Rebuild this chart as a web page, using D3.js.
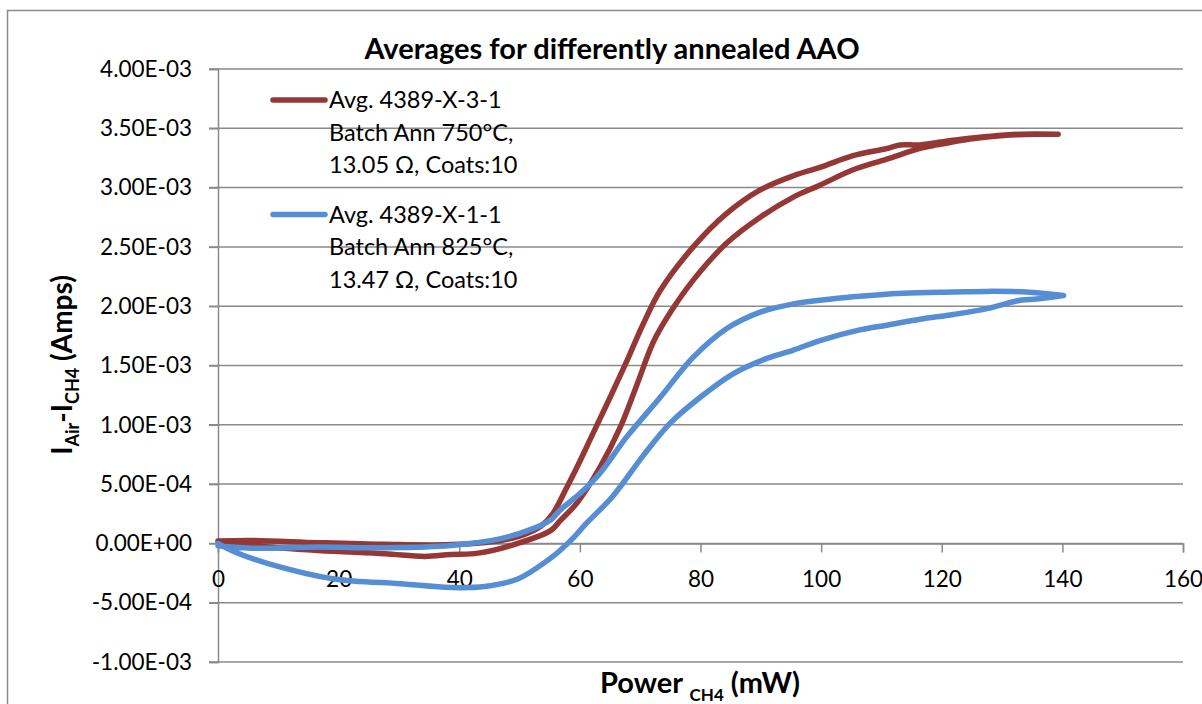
<!DOCTYPE html>
<html>
<head>
<meta charset="utf-8">
<script src="https://cdn.jsdelivr.net/npm/d3@7"></script>
<style>
  body { margin: 0; background: #fff; }
  svg { display: block; font-family: Lato, "Open Sans", sans-serif; }
</style>
</head>
<body>
<div id="chart"></div>
<script>
// power (mW) / current difference (A)
// red sample, branch that rises later (lower one at low power)
var redUpX = [0, 5.5, 16.6, 27.7, 34.3, 38.6, 43.1, 49.7, 55.2, 56.7, 59.5, 63.3, 66.7, 69.4, 72.2, 74.9, 78.8, 84.3, 89.9, 95.4, 99.8, 105.3, 110.9, 116.4, 119.2, 124.7, 130.2, 135.7, 139.3];
var redUpY = [0.02e-3, -0.017e-3, -0.059e-3, -0.087e-3, -0.11e-3, -0.093e-3, -0.082e-3, 0.0, 0.11e-3, 0.19e-3, 0.34e-3, 0.64e-3, 0.98e-3, 1.33e-3, 1.70e-3, 1.94e-3, 2.22e-3, 2.53e-3, 2.75e-3, 2.92e-3, 3.02e-3, 3.15e-3, 3.24e-3, 3.33e-3, 3.36e-3, 3.41e-3, 3.44e-3, 3.45e-3, 3.45e-3];
// red sample, other branch
var redDownX = [0, 5.5, 16.6, 27.7, 38.6, 46.9, 50.5, 53.4, 55.5, 57.8, 59.5, 62.2, 65.0, 67.8, 70.5, 73.3, 78.8, 84.3, 89.9, 95.4, 99.8, 105.3, 110.9, 113.1, 116.4, 121.9, 127.5, 133, 139.3];
var redDownY = [0.02e-3, 0.025e-3, 0.006e-3, -0.008e-3, -0.01e-3, 0.025e-3, 0.07e-3, 0.14e-3, 0.25e-3, 0.47e-3, 0.64e-3, 0.93e-3, 1.23e-3, 1.54e-3, 1.85e-3, 2.13e-3, 2.50e-3, 2.78e-3, 2.98e-3, 3.10e-3, 3.17e-3, 3.27e-3, 3.33e-3, 3.36e-3, 3.36e-3, 3.40e-3, 3.43e-3, 3.45e-3, 3.45e-3];
// blue sample, lower branch
var blueUpX = [0, 2.8, 8.3, 19.3, 30.3, 38.6, 44.2, 49.7, 55.0, 56.7, 58.8, 61.1, 65.5, 70.5, 74.9, 79.9, 85.4, 91.0, 95.4, 99.8, 106.4, 110.9, 116.4, 121.9, 127.5, 133, 135.7, 140.2];
var blueUpY = [0, -0.073e-3, -0.17e-3, -0.30e-3, -0.34e-3, -0.372e-3, -0.363e-3, -0.30e-3, -0.13e-3, -0.06e-3, 0.04e-3, 0.17e-3, 0.40e-3, 0.74e-3, 1.01e-3, 1.23e-3, 1.43e-3, 1.56e-3, 1.63e-3, 1.71e-3, 1.80e-3, 1.84e-3, 1.89e-3, 1.93e-3, 1.98e-3, 2.05e-3, 2.06e-3, 2.09e-3];
// blue sample, upper branch
var blueDownX = [0, 5.5, 16.6, 27.7, 38.6, 46.9, 52.0, 55.2, 56.7, 60.0, 63.3, 67.8, 73.3, 78.8, 84.3, 89.9, 95.4, 99.8, 105.3, 113.6, 121.9, 127.5, 134, 140.2];
var blueDownY = [-0.02e-3, -0.04e-3, -0.031e-3, -0.036e-3, -0.017e-3, 0.04e-3, 0.12e-3, 0.20e-3, 0.28e-3, 0.42e-3, 0.59e-3, 0.90e-3, 1.23e-3, 1.57e-3, 1.81e-3, 1.95e-3, 2.02e-3, 2.05e-3, 2.08e-3, 2.11e-3, 2.12e-3, 2.125e-3, 2.12e-3, 2.09e-3];

var xTicks = [0, 20, 40, 60, 80, 100, 120, 140, 160];
var yTicks = [-1e-3, -0.5e-3, 0, 0.5e-3, 1e-3, 1.5e-3, 2e-3, 2.5e-3, 3e-3, 3.5e-3, 4e-3];
var seriesNames = [
    ["Avg. 4389-X-3-1", "Batch Ann 750°C,", "13.05 Ω, Coats:10"],
    ["Avg. 4389-X-1-1", "Batch Ann 825°C,", "13.47 Ω, Coats:10"]
];
var seriesColors = ["#953735", "#558ed5"];

var width = 1202, height = 704;
var svg = d3.select("#chart").append("svg")
    .attr("width", width)
    .attr("height", height);

// chart frame
svg.append("rect")
    .attr("x", 7.5).attr("y", 10.5)
    .attr("width", 1240).attr("height", 760)
    .attr("fill", "none").attr("stroke", "#8c8c8c").attr("stroke-width", 1.5);

var x = d3.scaleLinear().domain([0, 160]).range([218, 1183]);
var y = d3.scaleLinear().domain([-1e-3, 4e-3]).range([662, 69]);

/**
 * format like 4.00E-03
 */
var formatE = function(v){
    if (v === 0) return "0.00E+00";
    var s = d3.format(".2e")(v);
    var parts = s.split("e");
    var exp = parseInt(parts[1], 10);
    var sign = exp < 0 ? "-" : "+";
    var a = Math.abs(exp);
    return parts[0].replace("−", "-") + "E" + sign + (a < 10 ? "0" + a : a);
};

// horizontal gridlines
svg.append("g").selectAll("line").data(yTicks).enter().append("line")
    .attr("x1", 209).attr("x2", x(160))
    .attr("y1", function(d){ return y(d); })
    .attr("y2", function(d){ return y(d); })
    .attr("stroke", "#8a8a8a").attr("stroke-width", 1.5);

// y axis
var yAxis = d3.axisLeft(y).tickValues(yTicks).tickSize(9).tickPadding(17).tickFormat(formatE);
var yAxisGroup = svg.append("g").attr("transform", "translate(218,0)").call(yAxis);
yAxisGroup.select(".domain").attr("stroke", "#8a8a8a").attr("stroke-width", 1.5);
yAxisGroup.selectAll(".tick line").attr("stroke", "#8a8a8a").attr("stroke-width", 1.5);
yAxisGroup.selectAll("text").style("font-family", "Lato").style("font-size", "22.5px").attr("fill", "#000");

// x axis at zero
var xAxis = d3.axisBottom(x).tickValues(xTicks).tickSize(9).tickPadding(19).tickFormat(d3.format("d"));
var xAxisGroup = svg.append("g").attr("transform", "translate(0," + y(0) + ")").call(xAxis);
xAxisGroup.select(".domain").attr("stroke", "#8a8a8a").attr("stroke-width", 1.5);
xAxisGroup.selectAll(".tick line").attr("stroke", "#8a8a8a").attr("stroke-width", 1.5);
xAxisGroup.selectAll("text").style("font-family", "Lato").style("font-size", "22.5px").attr("fill", "#000");

// loops
var line = d3.line()
    .curve(d3.curveCatmullRom.alpha(0.5))
    .x(function(d){ return x(d[0]); })
    .y(function(d){ return y(d[1]); });

var loop = function(ax, ay, bx, by){
    var pts = [];
    ax.forEach(function(v, i){ pts.push([v, ay[i]]); });
    for (var i = bx.length - 1; i >= 0; i--) pts.push([bx[i], by[i]]);
    return pts;
};

var loops = [loop(redUpX, redUpY, redDownX, redDownY), loop(blueUpX, blueUpY, blueDownX, blueDownY)];

svg.append("g").selectAll("path").data(loops).enter().append("path")
    .attr("d", line)
    .attr("fill", "none")
    .attr("stroke", function(d, i){ return seriesColors[i]; })
    .attr("stroke-width", 5.5)
    .attr("stroke-linejoin", "round")
    .attr("stroke-linecap", "round");

// legend
var legend = svg.append("g").selectAll("g").data(seriesNames).enter().append("g")
    .attr("transform", function(d, i){ return "translate(0," + (i === 0 ? 0 : 114.5) + ")"; });
legend.append("line")
    .attr("x1", 273).attr("x2", 325).attr("y1", 100).attr("y2", 100)
    .attr("stroke", function(d, i){ return seriesColors[i]; })
    .attr("stroke-width", 5.5).attr("stroke-linecap", "round");
legend.selectAll("text").data(function(d){ return d; }).enter().append("text")
    .attr("x", 329)
    .attr("y", function(d, j){ return 108 + j * 32.5; })
    .style("font-size", "23.5px")
    .text(function(d){ return d; });

// title
svg.append("text")
    .attr("x", 612).attr("y", 59)
    .attr("text-anchor", "middle")
    .style("font-size", "29px").style("font-weight", "bold")
    .text("Averages for differently annealed AAO");

// y title
var yt = svg.append("text")
    .attr("transform", "translate(72,365) rotate(-90)")
    .attr("text-anchor", "middle")
    .style("font-size", "28px").style("font-weight", "bold");
yt.append("tspan").text("I");
yt.append("tspan").attr("dy", 7).style("font-size", "18px").text("Air");
yt.append("tspan").attr("dy", -7).text("-I");
yt.append("tspan").attr("dy", 7).style("font-size", "18px").text("CH4");
yt.append("tspan").attr("dy", -7).text(" (Amps)");

// x title
var xt = svg.append("text")
    .attr("x", 700).attr("y", 693)
    .attr("text-anchor", "middle")
    .style("font-size", "29px").style("font-weight", "bold");
xt.append("tspan").text("Power ");
xt.append("tspan").attr("dy", 8).style("font-size", "17px").text("CH4");
xt.append("tspan").attr("dy", -8).text(" (mW)");
</script>
</body>
</html>
